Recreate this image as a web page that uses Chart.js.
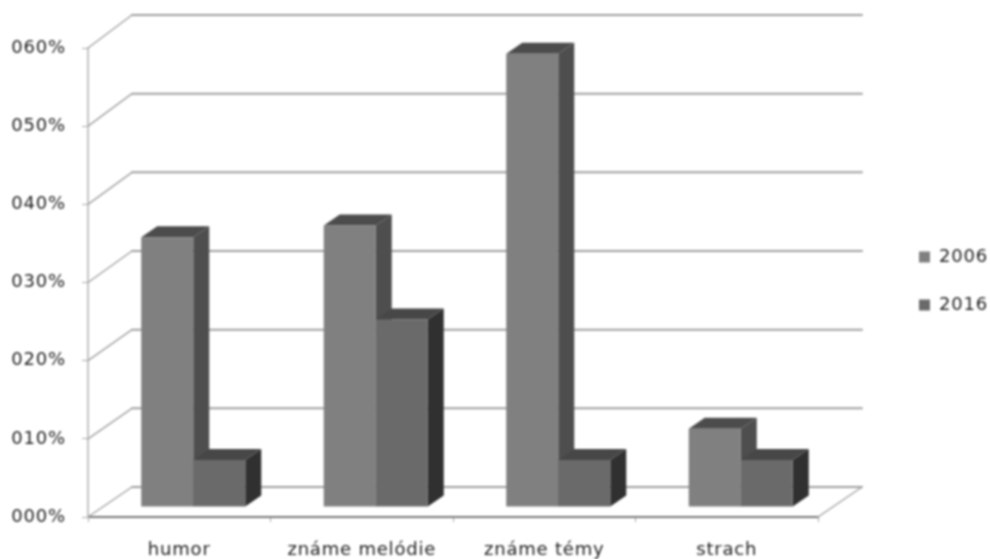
<!DOCTYPE html>
<html>
<head>
<meta charset="utf-8">
<script src="https://cdn.jsdelivr.net/npm/chart.js@4"></script>
<style>
html, body { margin: 0; padding: 0; background: #fff; }
#wrap { width: 990px; height: 559px; }
canvas { filter: blur(0.9px); }
</style>
</head>
<body>
<div id="wrap"><canvas id="chart"></canvas></div>
<script>
const categories = ['humor', 'známe melódie', 'známe témy', 'strach'];
const values2006 = [34.5, 36, 58, 10];
const values2016 = [6, 24, 6, 6];
const tickValues = ['000%', '010%', '020%', '030%', '040%', '050%', '060%'];

const frontColors = ['#808080', '#6a6a6a'];
const sideColors = ['#4e4e4e', '#303030'];
const topColors = ['#4c4c4c', '#474747'];

// depth of the wall behind the front plane and of the bars inside it
const wallDx = 44, wallDy = -30, wallDyTop = -33;
const barDx = 14, barDy = -10;
const depthDx = 16, depthDy = -11;

function poly(ctx, pts, color) {
    ctx.fillStyle = color;
    ctx.beginPath();
    pts.forEach((p, i) => i ? ctx.lineTo(p[0], p[1]) : ctx.moveTo(p[0], p[1]));
    ctx.closePath();
    ctx.fill();
}

const depthPlugin = {
    id: 'depth',
    afterLayout(chart) {
        // move the legend out to the right margin
        const lg = chart.legend;
        const w = lg.right - lg.left;
        lg.left = 889;
        lg.right = lg.left + w;
        lg.top = 218;
        lg.bottom = lg.top + 140;
    },
    beforeDraw(chart) {
        chart.ctx.letterSpacing = '0.8px';
    },
    beforeDatasetsDraw(chart) {
        const ctx = chart.ctx;
        const area = chart.chartArea;
        const y = chart.scales.y;

        ctx.save();
        ctx.strokeStyle = '#a0a0a0';
        ctx.lineCap = 'round';
        y.ticks.forEach(t => {
            const py = y.getPixelForValue(t.value);
            // the wall lines spread a little towards the top
            const wy = py + wallDy + (wallDyTop - wallDy) * t.value / y.max;
            ctx.lineWidth = 1.4;
            ctx.beginPath();
            ctx.moveTo(area.left, py);
            ctx.lineTo(area.left + wallDx, wy);
            ctx.stroke();
            ctx.lineWidth = 2;
            ctx.beginPath();
            ctx.moveTo(area.left + wallDx, wy);
            ctx.lineTo(area.right + wallDx, wy);
            ctx.stroke();
        });
        // right edge of the floor
        ctx.lineWidth = 1.4;
        ctx.beginPath();
        ctx.moveTo(area.right, area.bottom);
        ctx.lineTo(area.right + wallDx, area.bottom + wallDy);
        ctx.stroke();

        // datasets in their own order so 2016 sits over the side of 2006
        ctx.translate(barDx, barDy);
        [0, 1].forEach(d => {
            chart.getDatasetMeta(d).data.forEach(bar => {
                const l = bar.x - bar.width / 2;
                const r = bar.x + bar.width / 2;
                poly(ctx, [[r, bar.y], [r + depthDx, bar.y + depthDy], [r + depthDx, bar.base + depthDy], [r, bar.base]], sideColors[d]);
                poly(ctx, [[l, bar.y], [l + depthDx, bar.y + depthDy], [r + depthDx, bar.y + depthDy], [r, bar.y]], topColors[d]);
                bar.draw(ctx);
            });
        });
        ctx.restore();
        return false;
    }
};

new Chart(document.getElementById('chart'), {
    type: 'bar',
    plugins: [depthPlugin],
    data: {
        labels: categories,
        datasets: [
            { label: '2006', data: values2006, backgroundColor: frontColors[0] },
            { label: '2016', data: values2016, backgroundColor: frontColors[1] }
        ]
    },
    options: {
        responsive: true,
        maintainAspectRatio: false,
        animation: false,
        layout: { padding: { top: 48 } },
        datasets: { bar: { categoryPercentage: 0.57, barPercentage: 1 } },
        plugins: {
            tooltip: { enabled: false },
            legend: {
                position: 'right',
                align: 'start',
                labels: {
                    boxWidth: 11,
                    boxHeight: 11,
                    padding: 30,
                    color: '#222',
                    font: { family: 'DejaVu Sans', size: 18 }
                }
            }
        },
        scales: {
            x: {
                grid: { display: true, drawOnChartArea: false, drawTicks: true, tickLength: 5, color: '#aaa' },
                border: { display: true, color: '#777', width: 2 },
                ticks: { color: '#222', maxRotation: 0, padding: 18, font: { family: 'DejaVu Sans', size: 18 } },
                afterFit(scale) {
                    scale.height = 42;
                    scale.paddingRight = 172;
                }
            },
            y: {
                min: 0,
                max: 60,
                grid: { display: true, drawOnChartArea: false, drawTicks: true, tickLength: 6, color: '#aaa' },
                border: { display: true, color: '#c4c4c4', width: 2 },
                ticks: {
                    stepSize: 10,
                    color: '#222',
                    padding: 16,
                    font: { family: 'DejaVu Sans', size: 18 },
                    callback: (v, i) => tickValues[i]
                },
                afterFit(scale) { scale.width = 88; }
            }
        }
    }
});
</script>
</body>
</html>
